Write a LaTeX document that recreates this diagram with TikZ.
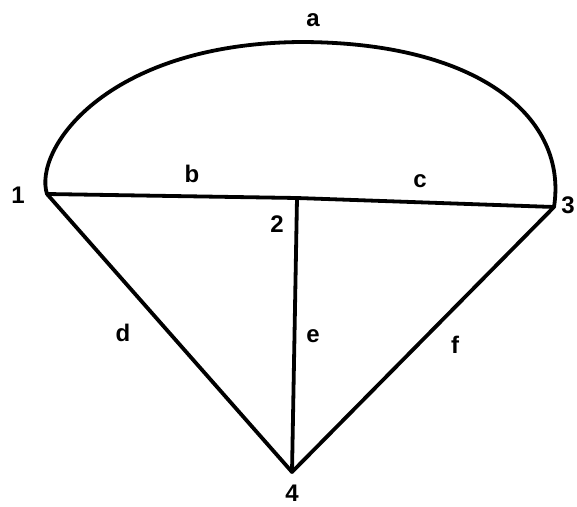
\documentclass[tikz,border=0pt]{standalone}
\usepackage{fontspec}
\setmainfont{Liberation Sans}
\begin{document}
\begin{tikzpicture}[x=1pt,y=-1pt,
  edge/.style={line width=3.8pt,line cap=round,line join=round},
  lbl/.style={font=\fontsize{24}{26}\selectfont\bfseries,inner sep=0pt},
  vtx/.style={inner sep=0pt,minimum size=0pt}]
\useasboundingbox (0,0) rectangle (577,506);
\coordinate (v1) at (47,194);
\coordinate (v2) at (297,198);
\coordinate (v3) at (554,207);
\coordinate (v4) at (292,472);
\draw[edge] (v1) .. controls (33,150) and (105,44) .. (300,42) .. controls (480,42) and (568,118) .. (v3);
\draw[edge] (v1) -- (v2) -- (v3);
\draw[edge] (v1) -- (v4);
\draw[edge] (v2) -- (v4);
\draw[edge] (v3) -- (v4);
\node[lbl] (l1) at (18,195) {1};
\node[lbl] (l2) at (277,224) {2};
\node[lbl] (l3) at (568,205) {3};
\node[lbl] (l4) at (292,493) {4};
\node[lbl] (la) at (313,20) {a};
\node[lbl] (lb) at (192,174) {b};
\node[lbl] (lc) at (420,181) {c};
\node[lbl] (ld) at (123,333) {d};
\node[lbl] (le) at (313,336) {e};
\node[lbl] (lf) at (455,345) {f};
\end{tikzpicture}
\end{document}
